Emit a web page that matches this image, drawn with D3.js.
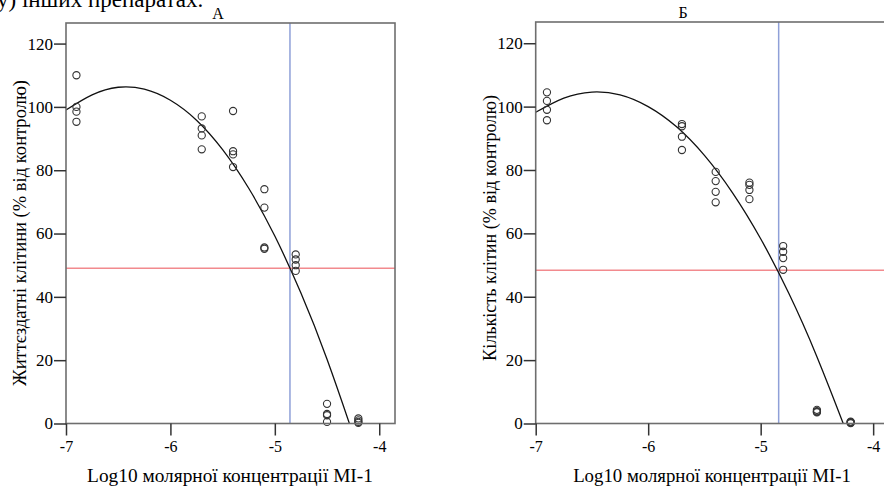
<!DOCTYPE html>
<html><head><meta charset="utf-8">
<script src="https://cdn.jsdelivr.net/npm/d3@7"></script>
<style>
body{margin:0;background:#fff}
svg{display:block}
svg text{font-family:'Liberation Serif','Times New Roman',Times,serif;fill:#000}
</style>
</head><body>
<svg id="c" width="884" height="488"></svg>
<script>
// ---- data ----
const logConc = [-6.9, -5.7, -5.4, -5.1, -4.8, -4.5, -4.2];
const viabilityA = [
  [110, 100, 98.5, 95.3],
  [97, 93.2, 91, 86.6],
  [98.7, 86, 85, 81],
  [74, 68.2, 55.6, 55.2],
  [53.4, 51.8, 50, 48.2],
  [6.2, 3, 2.6, 0.5],
  [1.6, 1, 0.5, 0.2]
];
const countB = [
  [104.5, 101.8, 99, 95.7],
  [94.5, 93.8, 90.5, 86.3],
  [79.4, 76.5, 73.1, 69.8],
  [76, 75.3, 73.7, 70.8],
  [56, 54.2, 52.2, 48.5],
  [4.3, 3.9, 3.7, 3.5],
  [0.6, 0.4, 0.3, 0.1]
];
const fitX = [-7, -6.75, -6.5, -6.25, -6, -5.75, -5.5, -5.25, -5, -4.75, -4.5, -4.25, -4.2];
const fitA = [99, 103.8, 106.2, 105.6, 102.1, 95.8, 86.5, 74.3, 59.2, 41.2, 20.3, -3.5, -8.6];
const fitB = [98.2, 102.7, 104.6, 103.7, 100.0, 93.7, 84.6, 72.8, 58.3, 41.1, 21.1, -1.5, -6.4];
const refX = [-4.855, -4.84];   // blue vertical line
const refY = [49, 48.4];        // red horizontal line
const xTicks = [-7, -6, -5, -4];
const yTicks = [0, 20, 40, 60, 80, 100, 120];
const panelTitles = ["А", "Б"];
const yTitles = ["Життєздатні клітини (% від контролю)", "Кількість клітин (% від контролю)"];
const xTitle = "Log10 молярної концентрації МІ-1";
const cutText = "у) інших препаратах.";

// ---- layout ----
const panels = [
  {title: panelTitles[0], yTitle: yTitles[0], values: viabilityA, fit: fitA, rx: refX[0], ry: refY[0],
   L: 66, R: 395, T: 23, B: 423.5, xMax: -3.849, yMax: 126.5,
   titleX: 218, titleY: 19, yTitleX: 19, yTitleC: 233, yTitleLen: 306, xTitleC: 230, xTitleLen: 286},
  {title: panelTitles[1], yTitle: yTitles[1], values: countB, fit: fitB, rx: refX[1], ry: refY[1],
   L: 535.7, R: 888, T: 22, B: 423.5, xMax: -3.868, yMax: 126.7,
   titleX: 683, titleY: 18, yTitleX: 490, yTitleC: 228, yTitleLen: 266, xTitleC: 712, xTitleLen: 278}
];

const svg = d3.select("#c");

// line of document text cut off by the top edge (as in the reference)
svg.append("text").attr("x", -3).attr("y", 7).attr("font-size", 23).text(cutText);

function fitText(sel, len) {
  const w = sel.node().getComputedTextLength();
  const fs = parseFloat(sel.attr("font-size"));
  sel.attr("font-size", fs * len / w);
}

panels.forEach((p, i) => {
  const x = d3.scaleLinear().domain([-7, p.xMax]).range([p.L, p.R]);
  const y = d3.scaleLinear().domain([0, p.yMax]).range([p.B, p.T]);
  const g = svg.append("g");

  const clipId = "clip" + i;
  g.append("clipPath").attr("id", clipId).append("rect")
    .attr("x", p.L).attr("y", p.T).attr("width", p.R - p.L).attr("height", p.B - p.T);

  g.append("line").attr("x1", x(p.rx)).attr("x2", x(p.rx)).attr("y1", p.T).attr("y2", p.B)
    .attr("stroke", "#8fa0d8").attr("stroke-width", 1.5);
  g.append("line").attr("x1", p.L).attr("x2", p.R).attr("y1", y(p.ry)).attr("y2", y(p.ry))
    .attr("stroke", "#f28a8e").attr("stroke-width", 1.5);

  const line = d3.line().x((d, k) => x(fitX[k])).y(d => y(d)).curve(d3.curveNatural);
  g.append("path").attr("clip-path", `url(#${clipId})`).attr("d", line(p.fit))
    .attr("fill", "none").attr("stroke", "#111").attr("stroke-width", 1.3);

  const pts = [];
  logConc.forEach((c, k) => p.values[k].forEach(v => pts.push([c, v])));
  g.selectAll("circle.pt").data(pts).enter().append("circle").attr("class", "pt")
    .attr("cx", d => x(d[0])).attr("cy", d => y(d[1])).attr("r", 3.6)
    .attr("fill", "none").attr("stroke", "#333").attr("stroke-width", 1.1);

  g.append("rect").attr("x", p.L).attr("y", p.T).attr("width", p.R - p.L).attr("height", p.B - p.T)
    .attr("fill", "none").attr("stroke", "#6e6e6e").attr("stroke-width", 1.6);

  const ya = g.append("g").attr("transform", `translate(${p.L},0)`)
    .call(d3.axisLeft(y).tickValues(yTicks).tickSize(12).tickPadding(1).tickFormat(d => String(d)));
  const xa = g.append("g").attr("transform", `translate(0,${p.B})`)
    .call(d3.axisBottom(x).tickValues(xTicks).tickSize(12).tickPadding(5).tickFormat(d => String(d)));
  [ya, xa].forEach((a, j) => {
    a.attr("font-family", null);
    a.select(".domain").remove();
    a.selectAll(".tick line").attr("stroke", "#333").attr("stroke-width", 1.5);
    a.selectAll(".tick text").attr("font-size", j === 0 ? 17 : 16).attr("fill", "#000");
  });

  g.append("text").attr("x", p.titleX).attr("y", p.titleY).attr("text-anchor", "middle")
    .attr("font-size", 16).text(p.title);
  const yt = g.append("text").attr("text-anchor", "middle").attr("font-size", 16)
    .attr("transform", `translate(${p.yTitleX},${p.yTitleC}) rotate(-90)`).attr("dy", "0.35em").text(p.yTitle);
  fitText(yt, p.yTitleLen);
  const xt = g.append("text").attr("x", p.xTitleC).attr("y", 482).attr("text-anchor", "middle")
    .attr("font-size", 16).text(xTitle);
  fitText(xt, p.xTitleLen);
});
</script>
</body></html>
